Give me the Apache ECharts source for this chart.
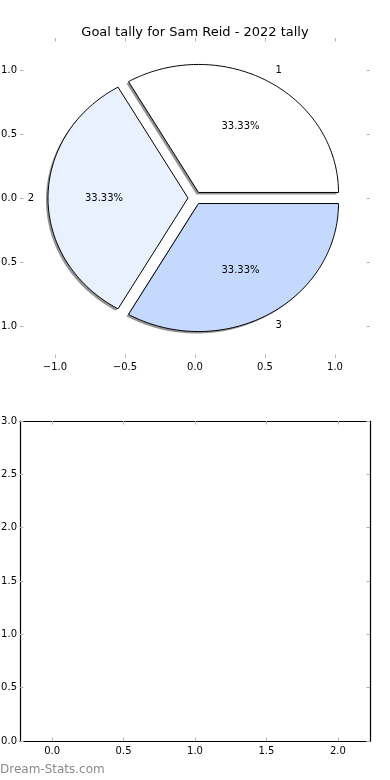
<!DOCTYPE html>
<html>
<head>
<meta charset="utf-8">
<script src="https://cdn.jsdelivr.net/npm/echarts@6/dist/echarts.min.js"></script>
<style>
html,body{margin:0;padding:0;background:#fff;}
#chart{width:390px;height:780px;}
</style>
</head>
<body>
<div id="chart"></div>
<script>
// ---- data ----
const titleText = 'Goal tally for Sam Reid - 2022 tally';
const sliceNames = ['1', '2', '3'];
const sliceValues = [1, 1, 1];
const sliceColors = ['#ffffff', '#eaf1fe', '#c5d9fe'];
const sliceExplode = [0.05, 0.05, 0.05];
const pieTicks = [-1, -0.5, 0, 0.5, 1];
const emptyXTicks = [0, 0.5, 1, 1.5, 2];
const watermark = 'Dream-Stats.com';

const FONT = 'DejaVu Sans';
const TICK_COLOR = '#b4b4b4';

function fmt(v) {
  const s = Number(v).toFixed(1);
  return s.replace('-', '\u2212');
}

function tickAxis(extra) {
  return Object.assign({
    type: 'value',
    axisLine: { show: false, onZero: false },
    splitLine: { show: false },
    axisTick: { show: true, inside: true, length: 3.5, lineStyle: { color: TICK_COLOR, width: 1 } },
    axisLabel: { show: true, color: '#000', fontSize: 10, fontFamily: FONT, margin: 4, formatter: fmt }
  }, extra);
}

const total = sliceValues.reduce((a, b) => a + b, 0);

function renderSlice(params, api) {
  const i = params.dataIndex;
  let start = 0;
  for (let k = 0; k < i; k++) start += sliceValues[k] / total * 360;
  const end = start + sliceValues[i] / total * 360;
  const mid = (start + end) / 2 * Math.PI / 180;
  const cx = sliceExplode[i] * Math.cos(mid);
  const cy = sliceExplode[i] * Math.sin(mid);
  const pts = [api.coord([cx, cy])];
  const N = 120;
  for (let s = 0; s <= N; s++) {
    const a = (start + (end - start) * s / N) * Math.PI / 180;
    pts.push(api.coord([cx + Math.cos(a), cy + Math.sin(a)]));
  }
  const pctPos = api.coord([cx + 0.6 * Math.cos(mid), cy + 0.6 * Math.sin(mid)]);
  const namePos = api.coord([cx + 1.1 * Math.cos(mid), cy + 1.1 * Math.sin(mid)]);
  const pct = (sliceValues[i] / total * 100).toFixed(2) + '%';
  return {
    type: 'group',
    children: [
      {
        type: 'polygon',
        shape: { points: pts },
        x: -2, y: 2,
        style: { fill: 'rgba(0,0,0,0.42)', stroke: null },
        z2: 0
      },
      {
        type: 'polygon',
        shape: { points: pts },
        style: { fill: sliceColors[i], stroke: '#000', lineWidth: 1 },
        z2: 1
      },
      {
        type: 'text',
        x: pctPos[0], y: pctPos[1],
        style: { text: pct, fill: '#000', fontSize: 10, fontFamily: FONT, align: 'center', verticalAlign: 'middle' },
        z2: 5
      },
      {
        type: 'text',
        x: namePos[0], y: namePos[1],
        style: { text: sliceNames[i], fill: '#000', fontSize: 10, fontFamily: FONT,
                 align: Math.cos(mid) > 0 ? 'left' : 'right', verticalAlign: 'middle' },
        z2: 5
      }
    ]
  };
}

const chart = echarts.init(document.getElementById('chart'), null, { renderer: 'canvas' });

const frameLine = { show: true, onZero: false, lineStyle: { color: '#000', width: 1.2 } };

chart.setOption({
  animation: false,
  backgroundColor: '#fff',
  title: {
    text: titleText, left: 'center', top: 21,
    textStyle: { fontSize: 13, fontWeight: 'normal', fontFamily: FONT, color: '#000' }
  },
  grid: [
    { left: 20, right: 20, top: 38, height: 320, containLabel: false, outerBoundsMode: 'none' },
    { left: 20, right: 20, top: 421, height: 320, containLabel: false, outerBoundsMode: 'none' }
  ],
  xAxis: [
    tickAxis({ gridIndex: 0, position: 'bottom', min: -1.25, max: 1.25,
      axisTick: { show: true, inside: true, length: 3.5, customValues: pieTicks, lineStyle: { color: TICK_COLOR } },
      axisLabel: { show: true, color: '#000', fontSize: 10, fontFamily: FONT, margin: 4, customValues: pieTicks, formatter: fmt } }),
    tickAxis({ gridIndex: 0, position: 'top', min: -1.25, max: 1.25,
      axisTick: { show: true, inside: true, length: 3.5, customValues: pieTicks, lineStyle: { color: TICK_COLOR } },
      axisLabel: { show: false } }),
    tickAxis({ gridIndex: 1, position: 'bottom', min: -0.225, max: 2.225, axisLine: frameLine,
      axisTick: { show: true, inside: true, length: 3.5, customValues: emptyXTicks, lineStyle: { color: TICK_COLOR } },
      axisLabel: { show: true, color: '#000', fontSize: 10, fontFamily: FONT, margin: 5, customValues: emptyXTicks, formatter: fmt } }),
    tickAxis({ gridIndex: 1, position: 'top', min: -0.225, max: 2.225, axisLine: frameLine,
      axisTick: { show: true, inside: true, length: 3.5, customValues: emptyXTicks, lineStyle: { color: TICK_COLOR } },
      axisLabel: { show: false } })
  ],
  yAxis: [
    tickAxis({ gridIndex: 0, position: 'left', min: -1.25, max: 1.25,
      axisTick: { show: true, inside: true, length: 3.5, customValues: pieTicks, lineStyle: { color: TICK_COLOR } },
      axisLabel: { show: true, color: '#000', fontSize: 10, fontFamily: FONT, margin: 3, customValues: pieTicks, formatter: fmt } }),
    tickAxis({ gridIndex: 0, position: 'right', min: -1.25, max: 1.25,
      axisTick: { show: true, inside: true, length: 3.5, customValues: pieTicks, lineStyle: { color: TICK_COLOR } },
      axisLabel: { show: false } }),
    tickAxis({ gridIndex: 1, position: 'left', min: 0, max: 3, interval: 0.5, axisLine: frameLine,
      axisLabel: { show: true, color: '#000', fontSize: 10, fontFamily: FONT, margin: 3, formatter: fmt } }),
    tickAxis({ gridIndex: 1, position: 'right', min: 0, max: 3, interval: 0.5, axisLine: frameLine,
      axisLabel: { show: false } })
  ],
  series: [
    {
      type: 'custom',
      coordinateSystem: 'cartesian2d',
      xAxisIndex: 0,
      yAxisIndex: 0,
      clip: false,
      silent: true,
      renderItem: renderSlice,
      data: sliceValues.map((v, i) => [i, v])
    }
  ],
  graphic: [
    {
      type: 'text', left: 0, top: 764,
      style: { text: watermark, fill: '#8a8a8a', fontSize: 12, fontFamily: FONT }
    }
  ]
});
</script>
</body>
</html>
